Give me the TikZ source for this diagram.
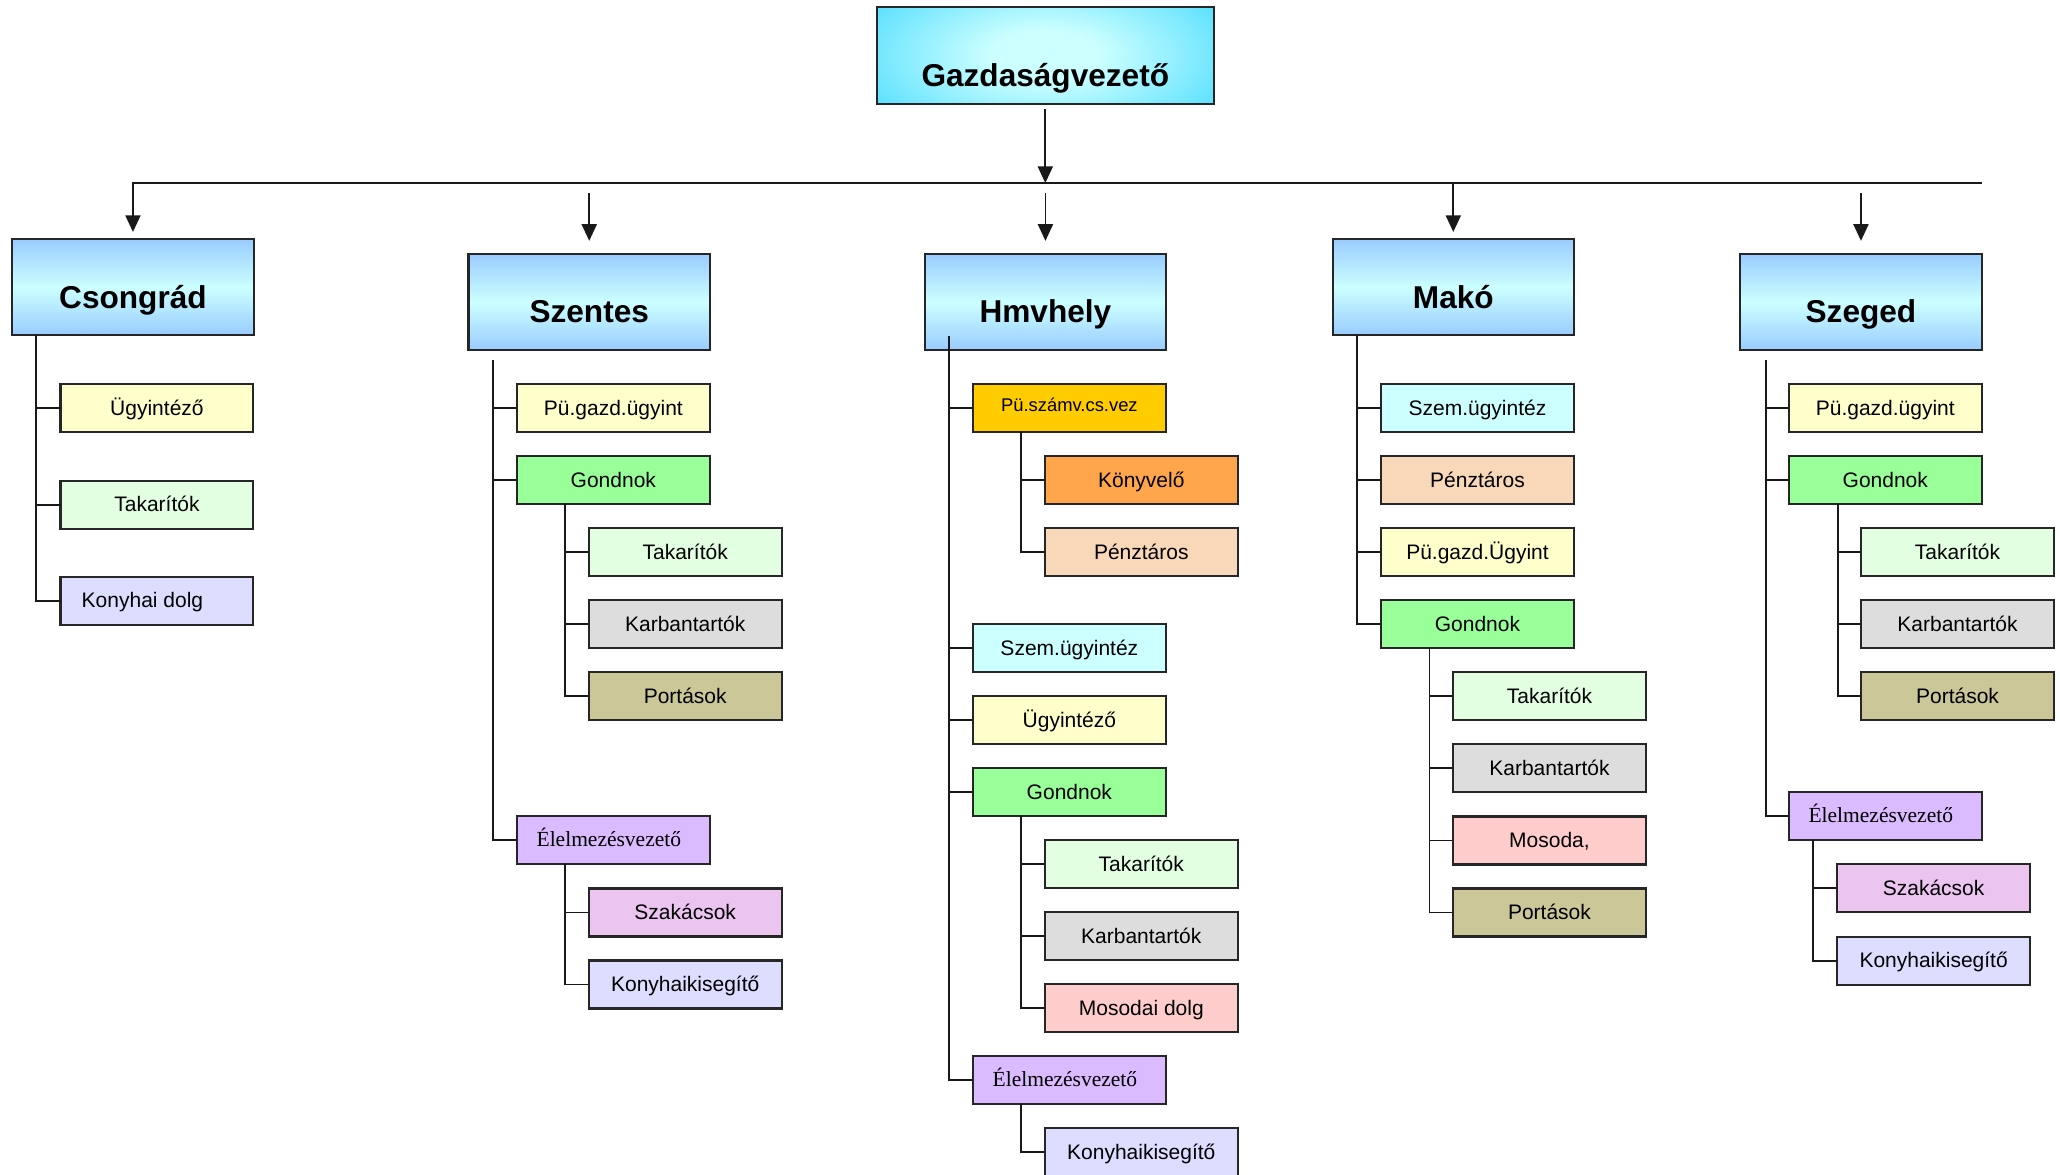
\documentclass[tikz,border=0pt]{standalone}
\usepackage{fontspec}
\setmainfont{Liberation Sans}
\newfontfamily\timesfont{Liberation Serif}
\usetikzlibrary{arrows.meta,calc}
\definecolor{hdrblue}{RGB}{153,204,255}
\definecolor{hdrcyan}{RGB}{204,255,255}
\definecolor{topcyan}{RGB}{20,204,255}
\definecolor{toplight}{RGB}{204,255,255}
\definecolor{cyellow}{RGB}{255,255,204}
\definecolor{cpalegreen}{RGB}{226,255,226}
\definecolor{clavender}{RGB}{221,221,255}
\definecolor{cgreen}{RGB}{153,255,153}
\definecolor{cgray}{RGB}{221,221,221}
\definecolor{ckhaki}{RGB}{204,199,153}
\definecolor{cviolet}{RGB}{218,187,255}
\definecolor{corchid}{RGB}{235,196,240}
\definecolor{cgold}{RGB}{255,204,0}
\definecolor{corange}{RGB}{255,166,77}
\definecolor{cpeach}{RGB}{248,216,184}
\definecolor{ccyan}{RGB}{204,255,255}
\definecolor{cpink}{RGB}{255,204,204}
\pgfdeclareradialshading{topsh}{\pgfpoint{0bp}{0bp}}{color(0bp)=(toplight); color(8bp)=(toplight); color(30bp)=(topcyan!62!toplight); color(50bp)=(topcyan); color(100bp)=(topcyan)}
\begin{document}
\begin{tikzpicture}[x=0.6569pt,y=-0.6569pt,
  hdr/.style={draw=black!85,line width=1.1pt,inner sep=0pt,outer sep=0pt,minimum width=120.7pt,minimum height=48pt,top color=hdrblue,bottom color=hdrblue,middle color=hdrcyan,font=\fontsize{15.8}{18}\selectfont\bfseries,text height=21pt,text depth=0pt},
  tophdr/.style={draw=black!85,line width=1.1pt,inner sep=0pt,outer sep=0pt,minimum width=168.6pt,minimum height=48.7pt,font=\fontsize{15.8}{18}\selectfont\bfseries,text height=30.8pt,text depth=0pt},
  box/.style={draw=black!85,line width=1.1pt,inner sep=0pt,outer sep=0pt,minimum width=96.4pt,minimum height=24pt,font=\fontsize{10.5}{12}\selectfont,text height=7pt,text depth=0pt},
  elel/.style={box,fill=cviolet,font=\timesfont\fontsize{10.75}{12}\selectfont,text height=6.7pt},
  conn/.style={line width=0.9pt,draw=black!90},
  arr/.style={conn,-{Triangle[length=8.3pt,width=7.5pt]}},
]
\useasboundingbox (0,0) rectangle (1568,894);
\clip (0,0) rectangle (1568,894);
\fill[white] (0,0) rectangle (1568,894);

% top box shading (elliptical glow)
\begin{scope}
\clip (667.3,5.1) rectangle (924,79.2);
\shade[shading=topsh] (667.3,-18) rectangle (924,102.3);
\end{scope}
\node[tophdr] (top) at (795.65,42.15) {Gazdaságvezető};

% Csongrad
\node[hdr] (cs) at (101.2,218.5) {Csongrád};
\node[box,fill=cyellow] (cs1) at (119.45,310.8) {Ügyintéző};
\node[box,fill=cpalegreen] (cs2) at (119.45,384.2) {Takarítók};
\node[box,fill=clavender] (cs3) at (119.45,457.3) {Konyhai dolg\hspace*{14.5pt}};

% Szentes
\node[hdr] (sz) at (448.5,229.85) {Szentes};
\node[box,fill=cyellow] (sz1) at (466.85,310.6) {Pü.gazd.ügyint};
\node[box,fill=cgreen] (sz2) at (466.85,365.45) {Gondnok};
\node[box,fill=cpalegreen] (sz21) at (521.55,420.3) {Takarítók};
\node[box,fill=cgray] (sz22) at (521.55,475.15) {Karbantartók};
\node[box,fill=ckhaki] (sz23) at (521.55,530) {Portások};
\node[elel] (sz3) at (466.85,639.5) {Élelmezésvezető\hspace*{4.5pt}};
\node[box,fill=corchid] (sz31) at (521.55,694.5) {Szakácsok};
\node[box,fill=clavender] (sz32) at (521.55,749.4) {Konyhaikisegítő};

% Hmvhely
\node[hdr] (hm) at (795.75,229.85) {Hmvhely};
\node[box,fill=cgold,font=\fontsize{9.2}{11}\selectfont,text height=3.2pt] (hm1) at (813.95,310.6) {Pü.számv.cs.vez};
\node[box,fill=corange] (hm11) at (868.7,365.45) {Könyvelő};
\node[box,fill=cpeach] (hm12) at (868.7,420.3) {Pénztáros};
\node[box,fill=ccyan] (hm2) at (813.95,493.3) {Szem.ügyintéz};
\node[box,fill=cyellow] (hm3) at (813.95,548.1) {Ügyintéző};
\node[box,fill=cgreen] (hm4) at (813.95,603.1) {Gondnok};
\node[box,fill=cpalegreen] (hm41) at (868.7,657.7) {Takarítók};
\node[box,fill=cgray] (hm42) at (868.7,712.7) {Karbantartók};
\node[box,fill=cpink] (hm43) at (868.7,767.5) {Mosodai dolg};
\node[elel] (hm5) at (813.95,822.1) {Élelmezésvezető\hspace*{4.5pt}};
\node[box,fill=clavender] (hm51) at (868.7,877.1) {Konyhaikisegítő};

% Mako
\node[hdr] (mk) at (1106.2,218.5) {Makó};
\node[box,fill=ccyan] (mk1) at (1124.6,310.6) {Szem.ügyintéz};
\node[box,fill=cpeach] (mk2) at (1124.6,365.45) {Pénztáros};
\node[box,fill=cyellow] (mk3) at (1124.6,420.3) {Pü.gazd.Ügyint};
\node[box,fill=cgreen] (mk4) at (1124.6,475.15) {Gondnok};
\node[box,fill=cpalegreen] (mk41) at (1179.4,530) {Takarítók};
\node[box,fill=cgray] (mk42) at (1179.4,584.85) {Karbantartók};
\node[box,fill=cpink] (mk43) at (1179.4,639.7) {Mosoda,};
\node[box,fill=ckhaki] (mk44) at (1179.4,694.55) {Portások};

% Szeged
\node[hdr] (sg) at (1416.5,229.85) {Szeged};
\node[box,fill=cyellow] (sg1) at (1435,310.6) {Pü.gazd.ügyint};
\node[box,fill=cgreen] (sg2) at (1435,365.45) {Gondnok};
\node[box,fill=cpalegreen] (sg21) at (1490,420.3) {Takarítók};
\node[box,fill=cgray] (sg22) at (1490,475.15) {Karbantartók};
\node[box,fill=ckhaki] (sg23) at (1490,530) {Portások};
\node[elel] (sg3) at (1435,621.3) {Élelmezésvezető\hspace*{4.5pt}};
\node[box,fill=corchid] (sg31) at (1471.8,676.2) {Szakácsok};
\node[box,fill=clavender] (sg32) at (1471.8,731.3) {Konyhaikisegítő};

% bus and arrows
\coordinate (topout) at ($(top.south)+(0,3.8)$);
\coordinate (busmid) at (795.65,139.3);
\coordinate (busL) at (101.2,139.3);
\coordinate (busR) at (1508.4,139.3);
\coordinate (busMk) at (1106.2,139.3);
\draw[arr] (topout) -- (busmid);
\draw[arr] (busR) -- (busL) -- ($(cs.north)+(0,-5.4)$);
\draw[arr] (busMk) -- ($(mk.north)+(0,-5.4)$);
\draw[arr] ($(sz.north)+(0,-46.3)$) -- ($(sz.north)+(0,-10)$);
\draw[arr] ($(hm.north)+(0,-46.3)$) -- ($(hm.north)+(0,-10)$);
\draw[arr] ($(sg.north)+(0,-46.3)$) -- ($(sg.north)+(0,-10)$);

% Csongrad spine
\coordinate (cssp) at ($(cs.south west)+(18.2,0)$);
\foreach \c in {cs1,cs2,cs3} \draw[conn] (cssp) |- (\c.west);

% Szentes spines
\coordinate (szsp) at ($(sz.south west)+(18.5,7.6)$);
\foreach \c in {sz1,sz2,sz3} \draw[conn] (szsp) |- (\c.west);
\coordinate (sz2sp) at ($(sz2.south west)+(36.7,0)$);
\foreach \c in {sz21,sz22,sz23} \draw[conn] (sz2sp) |- (\c.west);
\coordinate (sz3sp) at ($(sz3.south west)+(36.7,0)$);
\foreach \c in {sz31,sz32} \draw[conn] (sz3sp) |- (\c.west);

% Hmvhely spines
\coordinate (hmsp) at ($(hm.south west)+(18.6,-10.6)$);
\foreach \c in {hm1,hm2,hm3,hm4,hm5} \draw[conn] (hmsp) |- (\c.west);
\coordinate (hm1sp) at ($(hm1.south west)+(36.7,0)$);
\foreach \c in {hm11,hm12} \draw[conn] (hm1sp) |- (\c.west);
\coordinate (hm4sp) at ($(hm4.south west)+(36.7,0)$);
\foreach \c in {hm41,hm42,hm43} \draw[conn] (hm4sp) |- (\c.west);
\coordinate (hm5sp) at ($(hm5.south west)+(36.7,0)$);
\draw[conn] (hm5sp) |- (hm51.west);

% Mako spines
\coordinate (mksp) at ($(mk.south west)+(18.3,0)$);
\foreach \c in {mk1,mk2,mk3,mk4} \draw[conn] (mksp) |- (\c.west);
\coordinate (mk4sp) at ($(mk4.south west)+(36.8,0)$);
\foreach \c in {mk41,mk42,mk43,mk44} \draw[conn] (mk4sp) |- (\c.west);

% Szeged spines
\coordinate (sgsp) at ($(sg.south west)+(19.5,7.6)$);
\foreach \c in {sg1,sg2,sg3} \draw[conn] (sgsp) |- (\c.west);
\coordinate (sg2sp) at ($(sg2.south west)+(37.5,0)$);
\foreach \c in {sg21,sg22,sg23} \draw[conn] (sg2sp) |- (\c.west);
\coordinate (sg3sp) at ($(sg3.south west)+(18.5,0)$);
\foreach \c in {sg31,sg32} \draw[conn] (sg3sp) |- (\c.west);
\end{tikzpicture}
\end{document}
